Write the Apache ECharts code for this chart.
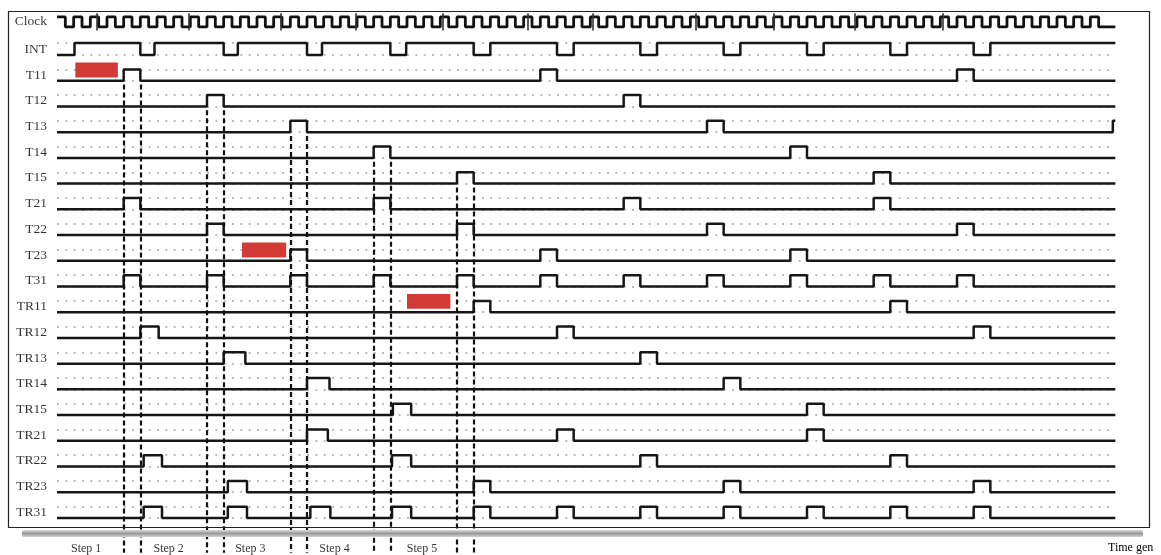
<!DOCTYPE html>
<html>
<head>
<meta charset="utf-8">
<title>Time generation</title>
<script src="https://cdn.jsdelivr.net/npm/echarts@6/dist/echarts.min.js"></script>
<style>
html,body{margin:0;padding:0;background:#fff;}
#main{width:1161px;height:555px;}
</style>
</head>
<body>
<div id="main"></div>
<script>
// rows, top to bottom
var rowNames = ['Clock','INT','T11','T12','T13','T14','T15','T21','T22','T23','T31',
	'TR11','TR12','TR13','TR14','TR15','TR21','TR22','TR23','TR31'];

// clock: rising edges (each high for one time unit) and glitch marks
var clockRise = [0,2,4,6,8,10,12,14,16,18,20,22,24,26,28,30,32,34,36,38,40,42,44,46,48,50,52,54,56,58,60,62,
	64,66,68,70,72,74,76,78,80,82,84,86,88,90,92,94,96,98,100,102,104,106,108,110,112,114,116,118,120,122,124];
var clockGlitch = [4.8,15.8,26.8,35.8,46.3,56.5,64.3,76.6,86.0,95.7,106.3];

// INT is high, these are its low intervals
var intLow = [[0,2.1],[10,11.7],[20,21.7],[30,31.8],[40,41.9],[50,52],[60,62],[70,72],[80,82],[90,92],[100,102],[110,112]];

// high intervals of the task signals
var t11 = [[8,10],[58,60],[108,110]];
var t12 = [[18,20],[68,70]];
var t13 = [[28,30],[78,80],[126.7,127]];
var t14 = [[38,40],[88,90]];
var t15 = [[48,50],[98,100]];
var t21 = [[8,10],[38,40],[68,70],[98,100]];
var t22 = [[18,20],[48,50],[78,80],[108,110]];
var t23 = [[28,30],[58,60],[88,90]];
var t31 = [[8,10],[18,20],[28,30],[38,40],[48,50],[58,60],[68,70],[78,80],[88,90],[98,100],[108,110]];
var tr11 = [[50,52],[100,102]];
var tr12 = [[10,12.2],[60,62],[110,112]];
var tr13 = [[20,22.6],[70,72]];
var tr14 = [[30,32.7],[80,82]];
var tr15 = [[40.3,42.5],[90,92]];
var tr21 = [[30,32.5],[60,62],[90,92]];
var tr22 = [[10.4,12.6],[40.2,42.5],[70,72],[100,102]];
var tr23 = [[20.5,22.8],[50,52],[80,82],[110,112]];
var tr31 = [[10.4,12.6],[20.5,22.8],[30.4,32.8],[40.2,42.5],[50,52],[60,62],[70,72],[80,82],[90,92],[100,102],[110,112]];

// red busy blocks [start, end, row]
var busyBlocks = [[2.2,7.3,'T11'],[22.2,27.5,'T23'],[42,47.2,'TR11']];

// dashed step boundaries follow the first pulse of these rows
var cutRows = ['T11','T12','T13','T14','T15'];
var stepLabels = ['Step 1','Step 2','Step 3','Step 4','Step 5'];
var stepPos = [3.5,13.4,23.2,33.3,43.8];

var X_MAX = 127;
var AMP = 0.44;
var signals = {
	'T11':t11,'T12':t12,'T13':t13,'T14':t14,'T15':t15,'T21':t21,'T22':t22,'T23':t23,'T31':t31,
	'TR11':tr11,'TR12':tr12,'TR13':tr13,'TR14':tr14,'TR15':tr15,'TR21':tr21,'TR22':tr22,'TR23':tr23,'TR31':tr31
};

function rowLow(name){
	if(name=='Clock') return -0.09;
	return rowNames.indexOf(name);
}
function rowHigh(name){
	if(name=='Clock') return -0.48;
	if(name=='INT') return rowLow(name)-0.47;
	return rowLow(name)-AMP;
}

//pulses on a base level -> polyline points
function buildWave(pulses,base,top){
	var pts=[[0,base]];
	for(var i=0;i<pulses.length;i++){
		var p=pulses[i];
		if(p[0]<=0){
			pts=[[0,top]];
		}else{
			pts.push([p[0],base]);
			pts.push([p[0],top]);
		}
		if(p[1]>=X_MAX){
			pts.push([X_MAX,top]);
		}else{
			pts.push([p[1],top]);
			pts.push([p[1],base]);
		}
	}
	if(pts[pts.length-1][0]<X_MAX) pts.push([X_MAX,base]);
	return pts;
}

var waveStyle = {color:'#161616',width:2.5};
var series = [];

// dotted grid
var dotLines = [];
for(var i=1;i<rowNames.length;i++){
	dotLines.push({coords:[[0,rowHigh(rowNames[i])],[X_MAX,rowHigh(rowNames[i])]]});
	dotLines.push({coords:[[0,rowLow(rowNames[i])],[X_MAX,rowLow(rowNames[i])]]});
}
series.push({
	type:'lines',coordinateSystem:'cartesian2d',z:1,silent:true,
	lineStyle:{color:'#bdbdbd',width:2,opacity:1,type:[2,6.333],cap:'butt'},
	data:dotLines
});

// clock
var clockPulses = clockRise.map(function(r){return [r,r+1];});
series.push({
	type:'line',name:'Clock',showSymbol:false,z:3,
	lineStyle:{color:'#111',width:2.8},
	data:buildWave(clockPulses,rowLow('Clock'),rowHigh('Clock'))
});
series.push({
	type:'lines',coordinateSystem:'cartesian2d',z:4,silent:true,
	lineStyle:{color:'#333',width:1.6,opacity:1},
	data:clockGlitch.map(function(g){return {coords:[[g,-0.62],[g,0.05]]};})
});

// INT
series.push({
	type:'line',name:'INT',showSymbol:false,z:3,lineStyle:waveStyle,
	data:buildWave(intLow,rowHigh('INT'),rowLow('INT'))
});

// task signals
for(var i=2;i<rowNames.length;i++){
	var nm=rowNames[i];
	series.push({
		type:'line',name:nm,showSymbol:false,z:3,lineStyle:waveStyle,
		data:buildWave(signals[nm],rowLow(nm),rowHigh(nm))
	});
}

// busy blocks
series.push({
	type:'custom',z:5,
	data:busyBlocks.map(function(b){return [b[0],b[1],rowLow(b[2])];}),
	renderItem:function(params,api){
		var p0=api.coord([api.value(0),api.value(2)-0.71]);
		var p1=api.coord([api.value(1),api.value(2)-0.13]);
		return {type:'rect',shape:{x:p0[0],y:p0[1],width:p1[0]-p0[0],height:p1[1]-p0[1]},
			style:{fill:'#d13a35'}};
	}
});

// dashed step boundaries
var cuts=[];
for(var i=0;i<cutRows.length;i++){
	var first=signals[cutRows[i]][0];
	var yStart=rowLow(cutRows[i])+0.15;
	cuts.push({coords:[[first[0],yStart],[first[0],20.35]]});
	cuts.push({coords:[[first[1],yStart],[first[1],20.35]]});
}
series.push({
	type:'lines',coordinateSystem:'cartesian2d',z:6,silent:true,clip:false,
	lineStyle:{color:'#111',width:2.2,opacity:1,type:[5,3]},
	data:cuts
});

// row labels
series.push({
	type:'scatter',symbolSize:0,z:7,silent:true,clip:false,
	data:rowNames.map(function(n){return {value:[0,(rowLow(n)+rowHigh(n))/2],name:n};}),
	label:{show:true,position:'left',distance:10,formatter:'{b}',
		color:'#000',fontFamily:'Liberation Serif',fontSize:13.5}
});

// step labels
series.push({
	type:'scatter',symbolSize:0,z:7,silent:true,clip:false,
	data:stepLabels.map(function(s,k){return {value:[stepPos[k],20.2],name:s};}),
	label:{show:true,position:'inside',formatter:'{b}',
		color:'#000',fontFamily:'Liberation Serif',fontSize:12}
});

var chart = echarts.init(document.getElementById('main'));
var option = {
	animation:false,
	backgroundColor:'#fff',
	grid:{left:57,top:3.56,width:1058.33,height:540.12},
	xAxis:{type:'value',min:0,max:X_MAX,show:false},
	yAxis:{type:'value',min:-1,max:20,inverse:true,show:false},
	graphic:[
		{type:'rect',shape:{x:8.5,y:11.5,width:1141,height:516},
			style:{fill:'none',stroke:'#222',lineWidth:1.2},z:10},
		{type:'rect',shape:{x:22,y:530,width:1121,height:7,r:2},
			style:{fill:new echarts.graphic.LinearGradient(0,0,0,1,[
				{offset:0,color:'#dadada'},{offset:0.5,color:'#999'},{offset:1,color:'#d2d2d2'}])},z:10},
		{type:'text',left:1108,top:542,
			style:{text:'Time gen',font:'12px "Liberation Serif"',fill:'#000'},z:10}
	],
	series:series
};
chart.setOption(option);
</script>
</body>
</html>
